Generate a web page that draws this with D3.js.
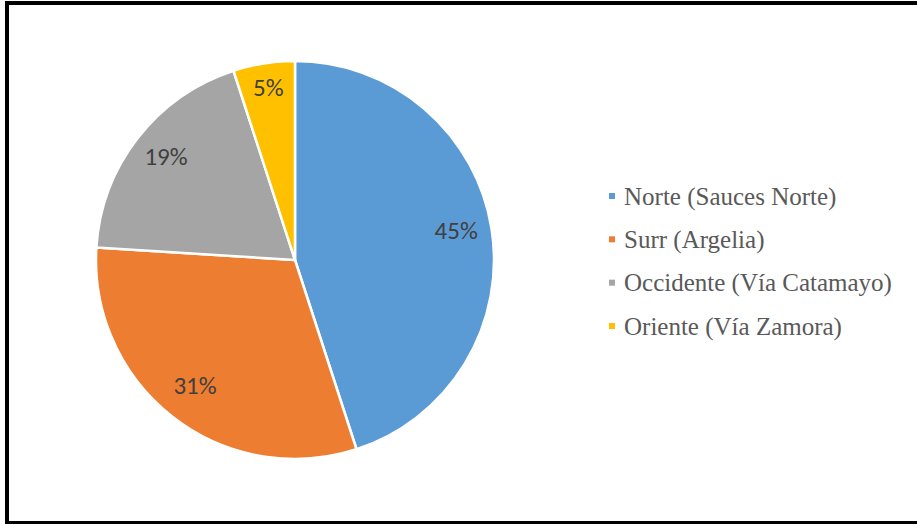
<!DOCTYPE html>
<html>
<head>
<meta charset="utf-8">
<script src="https://cdn.jsdelivr.net/npm/d3@7"></script>
<style>
html,body{margin:0;padding:0;background:#fff;}
svg{display:block;}
</style>
</head>
<body>
<svg id="chart" width="917" height="524"></svg>
<script>
const categories = ["Norte (Sauces Norte)", "Surr (Argelia)", "Occidente (Vía Catamayo)", "Oriente (Vía Zamora)"];
const values = [45, 31, 19, 5];
const labels = ["45%", "31%", "19%", "5%"];
const colors = ["#5B9BD5", "#ED7D31", "#A5A5A5", "#FFC000"];

const svg = d3.select("#chart");

// frame
svg.append("rect").attr("x", 5).attr("y", 1).attr("width", 4).attr("height", 523).attr("fill", "#000");
svg.append("rect").attr("x", 5).attr("y", 1).attr("width", 912).attr("height", 4).attr("fill", "#000");
svg.append("rect").attr("x", 5).attr("y", 521).attr("width", 912).attr("height", 3).attr("fill", "#000");

const cx = 295, cy = 260, r = 199;
const color = d3.scaleOrdinal().domain(categories).range(colors);
const pie = d3.pie().sort(null).value(d => d.v);
const data = categories.map((c, i) => ({c, v: values[i], l: labels[i]}));
const arcs = pie(data);
const arc = d3.arc().innerRadius(0).outerRadius(r);
const labelR = d => (d.endAngle - d.startAngle) < 0.5 ? 0.86 * r : 0.82 * r;

const g = svg.append("g").attr("transform", `translate(${cx},${cy})`);
g.selectAll("path").data(arcs).join("path")
  .attr("d", arc)
  .attr("fill", d => color(d.data.c))
  .attr("stroke", "#fff")
  .attr("stroke-width", 2.5)
  .attr("stroke-linejoin", "round");

g.selectAll("text").data(arcs).join("text")
  .attr("transform", d => {
    const lr = labelR(d);
    const c = d3.arc().innerRadius(lr).outerRadius(lr).centroid(d);
    return `translate(${c[0]},${c[1] - 4})`;
  })
  .attr("text-anchor", "middle")
  .attr("dy", "0.35em")
  .attr("font-family", "Carlito, 'Liberation Sans', Arial, sans-serif")
  .attr("font-size", 25)
  .attr("fill", "#404040")
  .text(d => d.data.l);

// legend
const legY = d3.scalePoint().domain(categories).range([196, 326]);
const leg = svg.append("g");
const items = leg.selectAll("g").data(categories).join("g")
  .attr("transform", d => `translate(609,${legY(d)})`);
items.append("rect").attr("x", 0).attr("y", -3).attr("width", 6).attr("height", 6)
  .attr("fill", d => color(d));
items.append("text").attr("x", 15).attr("dy", "0.35em")
  .attr("font-family", "'Liberation Serif', 'Times New Roman', serif")
  .attr("font-size", 25)
  .attr("fill", "#595959")
  .text(d => d);
</script>
</body>
</html>
